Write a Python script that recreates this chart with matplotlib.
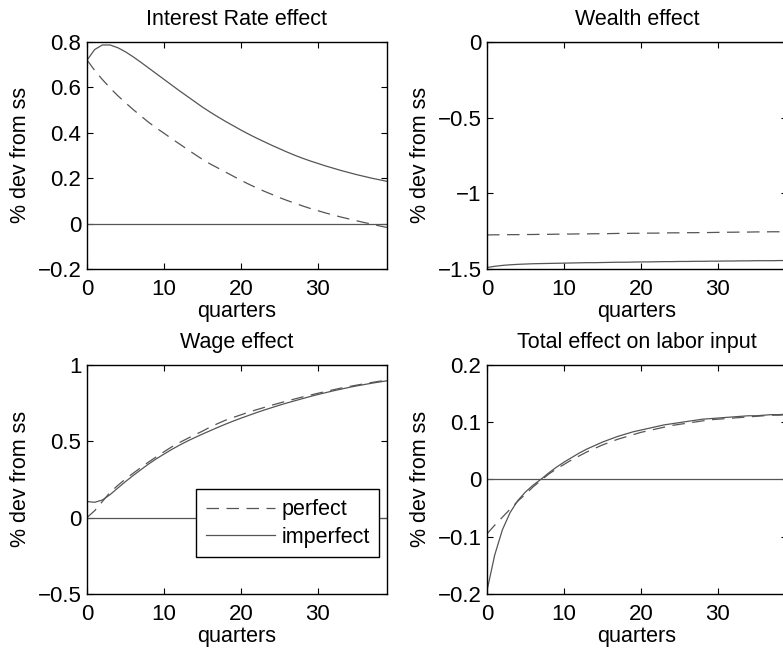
import numpy as np
import matplotlib
matplotlib.use("Agg")
import matplotlib.pyplot as plt

plt.rcParams["font.family"] = ["Liberation Sans", "DejaVu Sans"]

quarters = np.arange(40)

ir_perfect = [0.72, 0.674, 0.634, 0.597, 0.563, 0.532, 0.502, 0.474, 0.446, 0.421,
              0.398, 0.374, 0.351, 0.328, 0.305, 0.283, 0.263, 0.245, 0.227, 0.209,
              0.191, 0.174, 0.158, 0.143, 0.129, 0.115, 0.102, 0.090, 0.078, 0.067,
              0.057, 0.047, 0.038, 0.029, 0.021, 0.013, 0.005, -0.002, -0.010, -0.017]
ir_imperfect = [0.719, 0.766, 0.786, 0.786, 0.774, 0.756, 0.734, 0.710, 0.685, 0.660,
                0.635, 0.610, 0.585, 0.561, 0.537, 0.513, 0.491, 0.470, 0.450, 0.431,
                0.412, 0.394, 0.377, 0.361, 0.345, 0.330, 0.315, 0.301, 0.288, 0.276,
                0.265, 0.254, 0.244, 0.234, 0.225, 0.216, 0.208, 0.200, 0.193, 0.186]

w_perfect = [-1.275, -1.274, -1.274, -1.273, -1.273, -1.272, -1.272, -1.271, -1.271, -1.270,
             -1.269, -1.269, -1.268, -1.268, -1.267, -1.267, -1.266, -1.265, -1.265, -1.264,
             -1.264, -1.263, -1.263, -1.262, -1.261, -1.261, -1.260, -1.260, -1.259, -1.259,
             -1.258, -1.257, -1.257, -1.256, -1.256, -1.255, -1.255, -1.254, -1.254, -1.253]
w_imperfect = [-1.490, -1.482, -1.476, -1.472, -1.469, -1.467, -1.465, -1.464, -1.463, -1.462,
               -1.461, -1.460, -1.459, -1.458, -1.458, -1.457, -1.456, -1.455, -1.455, -1.454,
               -1.453, -1.453, -1.452, -1.451, -1.451, -1.450, -1.450, -1.449, -1.449, -1.448,
               -1.448, -1.447, -1.447, -1.446, -1.446, -1.445, -1.445, -1.445, -1.444, -1.444]

wage_perfect = [0.0, 0.045, 0.105, 0.165, 0.21, 0.252, 0.29, 0.327, 0.363, 0.397,
                0.43, 0.462, 0.49, 0.516, 0.541, 0.565, 0.592, 0.615, 0.637, 0.655,
                0.672, 0.689, 0.705, 0.72, 0.735, 0.749, 0.763, 0.776, 0.789, 0.801,
                0.813, 0.825, 0.836, 0.847, 0.857, 0.866, 0.875, 0.884, 0.892, 0.90]
wage_imperfect = [0.105, 0.10, 0.115, 0.15, 0.193, 0.235, 0.275, 0.313, 0.35, 0.384,
                  0.415, 0.445, 0.473, 0.499, 0.523, 0.546, 0.568, 0.59, 0.611, 0.631,
                  0.65, 0.668, 0.686, 0.703, 0.719, 0.735, 0.75, 0.764, 0.778, 0.792,
                  0.805, 0.817, 0.829, 0.84, 0.851, 0.861, 0.87, 0.879, 0.887, 0.895]

tot_perfect = [-0.095, -0.080, -0.066, -0.052, -0.038, -0.026, -0.013, -0.002, 0.009, 0.018,
               0.026, 0.034, 0.041, 0.048, 0.054, 0.060, 0.065, 0.070, 0.074, 0.078,
               0.082, 0.085, 0.088, 0.091, 0.094, 0.096, 0.098, 0.100, 0.102, 0.104,
               0.105, 0.106, 0.107, 0.108, 0.109, 0.110, 0.111, 0.112, 0.112, 0.113]
tot_imperfect = [-0.194, -0.132, -0.088, -0.058, -0.037, -0.022, -0.010, 0.000, 0.011, 0.021,
                 0.030, 0.038, 0.046, 0.053, 0.059, 0.065, 0.070, 0.075, 0.079, 0.083,
                 0.086, 0.089, 0.092, 0.095, 0.097, 0.099, 0.101, 0.103, 0.105, 0.106,
                 0.107, 0.108, 0.109, 0.110, 0.111, 0.111, 0.112, 0.113, 0.113, 0.114]

panels = [
    ("Interest Rate effect", ir_perfect, ir_imperfect, (-0.2, 0.8), [-0.2, 0, 0.2, 0.4, 0.6, 0.8], ["\u22120.2", "0", "0.2", "0.4", "0.6", "0.8"]),
    ("Wealth effect", w_perfect, w_imperfect, (-1.5, 0), [-1.5, -1, -0.5, 0], ["\u22121.5", "\u22121", "\u22120.5", "0"]),
    ("Wage effect", wage_perfect, wage_imperfect, (-0.5, 1), [-0.5, 0, 0.5, 1], ["\u22120.5", "0", "0.5", "1"]),
    ("Total effect on labor input", tot_perfect, tot_imperfect, (-0.2, 0.2), [-0.2, -0.1, 0, 0.1, 0.2], ["\u22120.2", "\u22120.1", "0", "0.1", "0.2"]),
]
# axes boxes in figure fractions (left, bottom, width, height)
boxes = [(0.1111, 0.588, 0.383, 0.348), (0.622, 0.588, 0.383, 0.348),
         (0.1111, 0.0904, 0.383, 0.351), (0.622, 0.0904, 0.383, 0.351)]

fig = plt.figure(figsize=(7.83, 6.53), dpi=100)
lc = "#555555"
for (title, perf, imp, ylim, yt, ytl), box in zip(panels, boxes):
    ax = fig.add_axes(box)
    ax.axhline(0, color=lc, lw=0.9)
    ax.plot(quarters, perf, color=lc, lw=0.9, ls=(0, (10, 6)), label="perfect")
    ax.plot(quarters, imp, color=lc, lw=0.9, label="imperfect")
    ax.set_xlim(0, 39)
    ax.set_ylim(*ylim)
    ax.set_xticks([0, 10, 20, 30])
    ax.set_yticks(yt)
    ax.set_yticklabels(ytl)
    ax.tick_params(direction="in", top=True, right=True, labelsize=16, length=4, width=0.8)
    ax.tick_params(axis="x", pad=7)
    ax.tick_params(axis="y", pad=4)
    for s in ax.spines.values():
        s.set_linewidth(1.0)
    ax.set_title(title, fontsize=15.5, pad=12)
    ax.set_xlabel("quarters", fontsize=15.5, labelpad=1)
    ax.set_ylabel("% dev from ss", fontsize=15.5, labelpad=5)
    if title == "Wage effect":
        leg = ax.legend(loc="lower right", bbox_to_anchor=(0.975, 0.16), fontsize=15.5,
                        fancybox=False, framealpha=1, edgecolor="black",
                        handlelength=3.2, borderpad=0.45, labelspacing=0.3,
                        handletextpad=0.3, borderaxespad=0)
        leg.get_frame().set_linewidth(1.0)

fig.savefig("out.png", dpi=100)
